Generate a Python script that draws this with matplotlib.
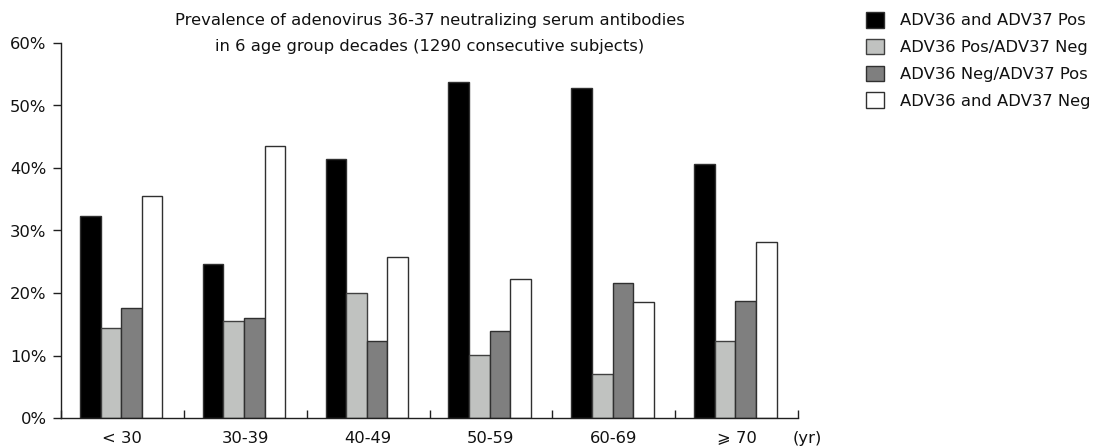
import matplotlib
matplotlib.use("Agg")
import matplotlib.pyplot as plt
import numpy as np
from matplotlib.patches import Patch

plt.rcParams['font.family'] = ['DejaVu Sans', 'Noto Sans CJK SC']

categories = ["< 30", "30-39", "40-49", "50-59", "60-69", "\u2a7e 70"]
series_names = ["ADV36 and ADV37 Pos", "ADV36 Pos/ADV37 Neg",
                "ADV36 Neg/ADV37 Pos", "ADV36 and ADV37 Neg"]
both_pos = [32.3, 24.6, 41.5, 53.7, 52.85, 40.6]
pos36_neg37 = [14.35, 15.6, 20.05, 10.1, 7.05, 12.4]
neg36_pos37 = [17.65, 16.0, 12.3, 13.9, 21.55, 18.7]
both_neg = [35.55, 43.5, 25.8, 22.2, 18.55, 28.2]
yticks = [0, 10, 20, 30, 40, 50, 60]
title_lines = ["Prevalence of adenovirus 36-37 neutralizing serum antibodies",
               "in 6 age group decades (1290 consecutive subjects)"]

series = [both_pos, pos36_neg37, neg36_pos37, both_neg]
fills = ["#000000", "#c0c2c0", "#7f7f7f", "#ffffff"]
edges = ["#303030", "#404040", "#303030", "#303030"]

W, H = 1095, 448
fig = plt.figure(figsize=(W / 100, H / 100), dpi=100)
ax = fig.add_axes([61 / W, 30 / H, (798 - 61) / W, 375 / H])

fs = 11.8
tc = '#111111'
bw = 0.168
x = np.arange(len(categories)) + 0.49
for k, (vals, fc, ec) in enumerate(zip(series, fills, edges)):
    ax.bar(x + (k - 1.5) * bw, vals, width=bw, color=fc, edgecolor=ec,
           linewidth=1.0, label=series_names[k], zorder=2)

ax.set_xlim(0, len(categories))
ax.set_ylim(0, 60)
ax.spines['top'].set_visible(False)
ax.spines['right'].set_visible(False)
for s in ('left', 'bottom'):
    ax.spines[s].set_linewidth(1.0)
    ax.spines[s].set_color('#202020')

ax.set_yticks(yticks)
ax.set_yticklabels([f"{v}%" for v in yticks], fontsize=fs, color=tc)
ax.tick_params(axis='y', direction='out', length=6, width=1, pad=4.5, color='#202020')

ax.set_xticks(np.arange(len(categories)) + 0.5)
ax.set_xticklabels(categories, fontsize=fs, color=tc)
ax.tick_params(axis='x', which='major', length=0, pad=9)
ax.set_xticks(np.arange(len(categories) + 1), minor=True)
ax.tick_params(axis='x', which='minor', direction='in', length=6, width=1, color='#202020')

fig.text(807 / W, 1 - 438 / H, "(yr)", fontsize=fs, ha='center', va='center', color=tc)

for i, line in enumerate(title_lines):
    fig.text(430 / W, 1 - (20 + 27 * i) / H, line, fontsize=fs, ha='center',
             va='center', color=tc)

handles = [Patch(facecolor=fc, edgecolor=ec, linewidth=1.0) for fc, ec in zip(fills, edges)]
leg = fig.legend(handles, series_names, loc='upper left',
                 bbox_to_anchor=(866 / W, 1 - 12 / H), frameon=False,
                 fontsize=fs, handlelength=1.1, handleheight=1.1,
                 handletextpad=1.0, labelspacing=0.63, borderpad=0,
                 borderaxespad=0)
for t in leg.get_texts():
    t.set_color(tc)

fig.savefig("out.png", dpi=100)
